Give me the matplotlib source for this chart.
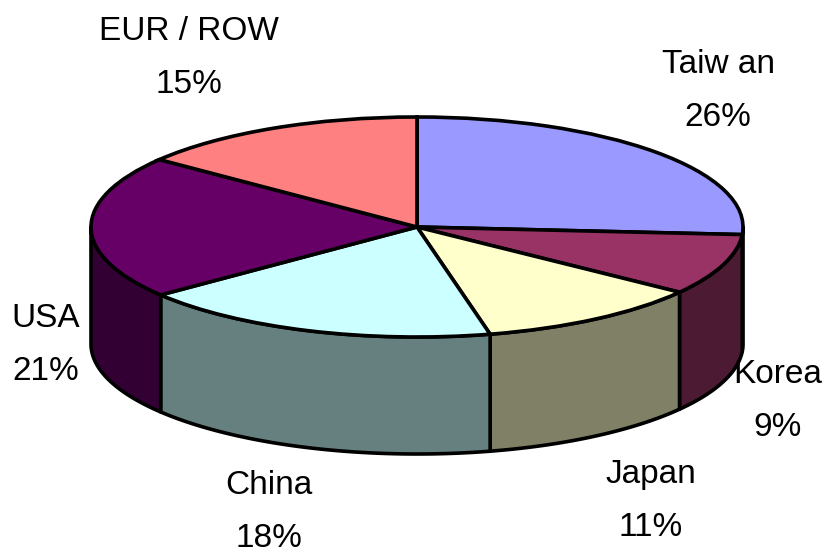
import numpy as np
import matplotlib
matplotlib.use("Agg")
import matplotlib.pyplot as plt

labels = ["Taiw an", "Korea", "Japan", "China", "USA", "EUR / ROW"]
percent_labels = ["26%", "9%", "11%", "18%", "21%", "15%"]
# unrounded shares as read from the slice edges
shares = [26.1, 9.0, 11.3, 18.0, 21.1, 14.5]
top_colors = ["#9999ff", "#993366", "#ffffcc", "#ccffff", "#660066", "#ff8080"]
side_colors = ["#4d4d80", "#4d1a33", "#808066", "#668080", "#330033", "#804040"]
label_pos = [(718, 91), (778, 401), (651, 501), (269, 512), (46, 345), (189, 58)]

W, H = 824, 554
RX, RY = 326, 110
CX, CY = 417, 227
DEPTH = 117 / RY
LW = 2.6

plt.rcParams["font.family"] = ["Liberation Sans"]
fig = plt.figure(figsize=(W / 100, H / 100), dpi=100)
ax = fig.add_axes([0, 0, 1, 1])

# side walls first, only the part facing front
start = 90
for share, col in zip(shares, side_colors):
    end = start - share * 3.6
    a0, a1 = max(min(start, 0), -180), max(end, -180)
    if a0 > a1:
        t = np.radians(np.linspace(a0, a1, 80))
        x, y = np.cos(t), np.sin(t)
        ax.fill(np.r_[x, x[::-1]], np.r_[y, y[::-1] - DEPTH], facecolor=col,
                edgecolor="black", linewidth=LW, joinstyle="round", zorder=1)
    start = end

ax.pie(shares, colors=top_colors, startangle=90, counterclock=False, radius=1,
       wedgeprops={"edgecolor": "black", "linewidth": LW}, normalize=True)
ax.set_aspect("auto")
ax.set_xlim(-CX / RX, (W - CX) / RX)
ax.set_ylim(-(H - CY) / RY, CY / RY)
ax.axis("off")

for lab, pct, (px, py) in zip(labels, percent_labels, label_pos):
    ax.text((px - CX) / RX, (CY - py) / RY, f"{lab}\n{pct}", ha="center", va="center",
            fontsize=24, linespacing=1.95, color="black")

fig.savefig("out.png", dpi=100)
